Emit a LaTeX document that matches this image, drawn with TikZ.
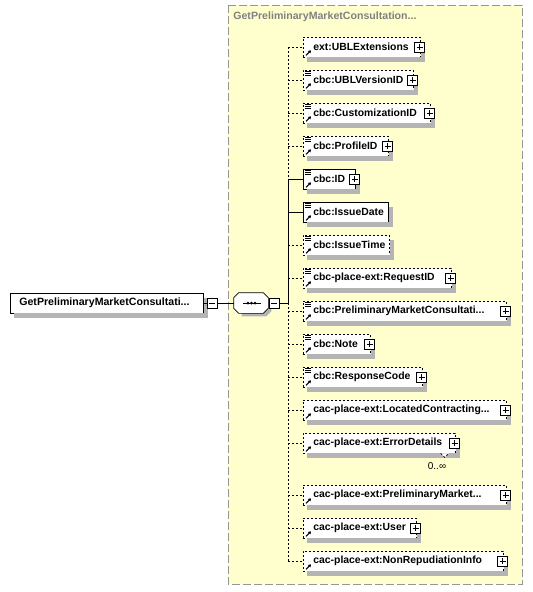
\documentclass[tikz,border=0pt]{standalone}
\usepackage{fontspec}
\setmainfont{Liberation Sans}
\usetikzlibrary{arrows.meta,calc}
\definecolor{paneyellow}{RGB}{255,255,206}
\definecolor{paneborder}{RGB}{150,150,150}
\definecolor{titlegray}{RGB}{128,128,128}
\definecolor{shadowgray}{RGB}{180,180,180}
\tikzset{
  elem/.style={draw, fill=white, inner sep=0pt, minimum height=20pt, anchor=west, align=left,
    font=\bfseries\fontsize{10.4}{12}\selectfont},
  opt/.style={elem, dash pattern=on 2pt off 2pt},
  req/.style={elem},
  plusbox/.style={draw, solid, fill=white, minimum size=10pt, inner sep=0pt,
    path picture={\draw ([xshift=-3pt]path picture bounding box.center) -- ([xshift=3pt]path picture bounding box.center);
                  \draw ([yshift=-3pt]path picture bounding box.center) -- ([yshift=3pt]path picture bounding box.center);}},
  minusbox/.style={draw, fill=white, minimum size=10pt, inner sep=0pt,
    path picture={\draw ([xshift=-3pt]path picture bounding box.center) -- ([xshift=3pt]path picture bounding box.center);}},
  optline/.style={dash pattern=on 2pt off 2pt},
  reqline/.style={},
}
\newcommand\refarrow[1]{\draw[line width=1.1pt,-{Triangle[length=2.6pt,width=3.2pt]}] ($(#1.south west)+(3,-2)$) -- ($(#1.south west)+(8,-7)$);}
\newcommand\linesicon[1]{%
  \draw[line width=0.8pt] ($(#1.north west)+(2,1.6)$) -- +(6,0);
  \draw[line width=0.8pt] ($(#1.north west)+(2,3.6)$) -- +(6,0);
  \draw[line width=0.8pt] ($(#1.north west)+(2,5.6)$) -- +(6,0);}
\newcommand\shadowfor[1]{%
  \fill[shadowgray] ($(#1.north east)+(0,5)$) rectangle ($(#1.south east)+(4,5)$);
  \fill[shadowgray] ($(#1.south west)+(4,0)$) rectangle ($(#1.south east)+(4,5)$);}
% #1 name, #2 y, #3 width, #4 style, #5 text
\newcommand\elemnode[5]{%
  \coordinate (s#1) at (288,#2);
  \node[#4, text width=#3pt] (#1) at (303,#2) {\hspace*{10pt}\mbox{#5}};
  \shadowfor{#1}}
\newcommand\plusfor[1]{\node[plusbox] (p#1) at ($(#1.east)+(-1,0)$) {};}
\begin{document}
\begin{tikzpicture}[x=1pt,y=-1pt,line width=0.7pt]
\useasboundingbox (0,0) rectangle (533,592);
% pane
\draw[fill=paneyellow, draw=paneborder, dash pattern=on 8pt off 3pt] (228,5) rectangle (522,584);
\node[anchor=west, text=titlegray, font=\bfseries\fontsize{10.6}{12}\selectfont, inner sep=0pt] (title) at (233,17) {GetPreliminaryMarketConsultation...};
% root
\node[req, text width=193pt, font=\bfseries\fontsize{10.6}{12}\selectfont] (root) at (10,303) {\hspace*{9pt}\mbox{GetPreliminaryMarketConsultati...}};
\shadowfor{root}
\node[minusbox] (rminus) at (212,303) {};
% sequence
\node[minimum width=34pt, minimum height=20pt, inner sep=0pt] (seq) at (251,303) {};
\fill[shadowgray] ($(seq.north west)+(8,3)$) -- ($(seq.north east)+(-2,3)$) -- ($(seq.north east)+(3,8)$) -- ($(seq.south east)+(3,-2)$) -- ($(seq.south east)+(-2,3)$) -- ($(seq.south west)+(8,3)$) -- cycle;
\draw[fill=white] ($(seq.north west)+(5,0)$) -- ($(seq.north east)+(-5,0)$) -- ($(seq.north east)+(0,5)$) -- ($(seq.south east)+(0,-5)$) -- ($(seq.south east)+(-5,0)$) -- ($(seq.south west)+(5,0)$) -- ($(seq.south west)+(0,-5)$) -- ($(seq.north west)+(0,5)$) -- cycle;
\draw[line width=1pt] ($(seq.center)+(-8,0)$) -- ($(seq.center)+(10,0)$);
\foreach \dx in {-3,0.5,4} \fill ($(seq.center)+(\dx,0)$) circle (1.5pt);
\node[minusbox] (sminus) at (274,303) {};
\coordinate (scenter) at (288,303);
\draw (root.east) -- (rminus.west);
\draw (rminus.east) -- (seq.west);
\draw (sminus.east) -- (scenter);
% children
\elemnode{e1}{47}{117}{opt}{ext:UBLExtensions}
\elemnode{e2}{80}{110}{opt}{cbc:UBLVersionID}
\elemnode{e3}{113}{127}{opt}{cbc:CustomizationID}
\elemnode{e4}{146}{85}{opt}{cbc:ProfileID}
\elemnode{e5}{179}{52}{req}{cbc:ID}
\elemnode{e6}{212}{85}{req}{cbc:IssueDate}
\elemnode{e7}{245}{86}{opt}{cbc:IssueTime}
\elemnode{e8}{278}{148}{opt}{cbc-place-ext:RequestID}
\elemnode{e9}{311}{203}{opt}{cbc:PreliminaryMarketConsultati...}
\elemnode{e10}{344}{67}{opt}{cbc:Note}
\elemnode{e11}{377}{119}{opt}{cbc:ResponseCode}
\elemnode{e12}{410}{203}{opt}{cac-place-ext:LocatedContracting...}
\elemnode{e13}{443}{152}{opt}{cac-place-ext:ErrorDetails}
\elemnode{e14}{495}{203}{opt}{cac-place-ext:PreliminaryMarket...}
\elemnode{e15}{528}{113}{opt}{cac-place-ext:User}
\elemnode{e16}{561}{200}{opt}{cac-place-ext:NonRepudiationInfo}
% plus boxes
\foreach \n in {e1,e2,e3,e4,e5,e8,e9,e10,e11,e12,e13,e14,e15,e16} {\plusfor{\n}}
% icons
\foreach \n in {e1,e2,e3,e4,e5,e6,e7,e8,e9,e10,e11,e12,e13,e14,e15,e16} {\refarrow{\n}}
\foreach \n in {e2,e3,e4,e5,e6,e7,e8,e9,e10,e11} {\linesicon{\n}}
% multiplicity
\draw[fill=white, dash pattern=on 2pt off 2pt] ($(e13.south east)+(-15,0)$) -- ($(e13.south east)+(-11,4)$) -- ($(e13.south east)+(-7,0)$);
\node[font=\fontsize{10}{12}\selectfont, inner sep=0pt] (mult) at (437,466) {0..∞};
% spine
\draw[optline] (se1) -- (se5);
\draw[reqline] (se5) -- (scenter);
\draw[optline] (scenter) -- (se16);
% connectors
\foreach \n in {e1,e2,e3,e4,e7,e8,e9,e10,e11,e12,e13,e14,e15,e16} {\draw[optline] (s\n) -- (\n.west);}
\foreach \n in {e5,e6} {\draw[reqline] (s\n) -- (\n.west);}
\end{tikzpicture}
\end{document}
